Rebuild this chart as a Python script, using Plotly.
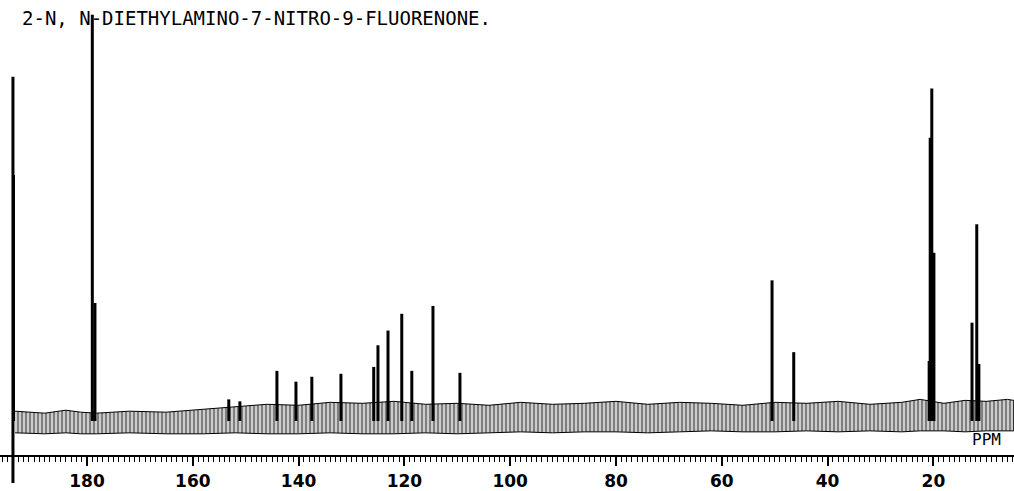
import plotly.graph_objects as go

# ---- data (ppm, intensity in arbitrary units above baseline) ----
title_text = "2-N, N-DIETHYLAMINO-7-NITRO-9-FLUORENONE."

peak_ppm = [194.0, 193.9, 179.0, 178.5, 153.2, 151.1, 144.1, 140.5, 137.5, 132.0,
            125.8, 125.0, 123.1, 120.5, 118.6, 114.6, 109.5,
            50.5, 46.4, 20.8, 20.6, 20.3, 19.9, 12.7, 11.8, 11.4]
peak_top = [350, 250, 413, 120, 22, 20, 51, 40, 45, 48,
            55, 77, 92, 109, 51, 117, 49,
            143, 70, 61, 288, 338, 171, 100, 200, 58]
peak_base = [-63, 0, 0, 0, 0, 0, 0, 0, 0, 0,
             0, 0, 0, 0, 0, 0, 0,
             0, 0, 0, 0, 0, 0, 0, 0, 0]

# baseline noise envelope (top / bottom of the noise band)
noise_ppm = [193.6, 188.0, 184.0, 181.2, 178.2, 172.0, 165.0, 158.0, 152.0, 146.0,
             140.0, 134.0, 128.0, 122.0, 116.0, 110.0, 104.0, 98.0, 92.0, 86.0,
             80.0, 74.0, 68.0, 62.0, 56.0, 50.0, 44.0, 38.0, 32.0, 26.0,
             22.5, 18.0, 14.0, 10.0, 6.0, 4.8]
noise_top = [10, 8, 11, 9, 8, 10, 9, 12, 15, 17,
             16, 19, 18, 20, 17, 18, 16, 19, 17, 18,
             20, 17, 19, 18, 16, 19, 18, 20, 17, 19,
             22, 18, 21, 20, 22, 21]
noise_bot = [-12, -13, -12, -13, -13, -12, -13, -13, -12, -13,
             -13, -12, -13, -13, -12, -13, -12, -11, -12, -11,
             -11, -12, -11, -10, -11, -11, -10, -11, -10, -11,
             -10, -10, -11, -10, -10, -10]

major_dtick = 20
minor_dtick = 1

# ---- build traces ----
stick_x, stick_y = [], []
for p, t, b in zip(peak_ppm, peak_top, peak_base):
    stick_x += [p, p, None]
    stick_y += [b, t, None]

band_x = noise_ppm + noise_ppm[::-1]
band_y = noise_top + noise_bot[::-1]

x_range = [196.45, 4.76]
ruler_pos = (491 - 464) / 491

fig = go.Figure()
fig.add_trace(go.Scatter(
    x=band_x, y=band_y, mode="lines", fill="toself",
    line=dict(width=1.0, color="black"),
    fillcolor="rgba(0,0,0,0)",
    fillpattern=dict(shape="|", fgcolor="black", bgcolor="white", size=4, solidity=0.7),
    hoverinfo="skip", showlegend=False))
fig.add_trace(go.Scatter(
    x=stick_x, y=stick_y, mode="lines",
    line=dict(color="black", width=3), showlegend=False))
# invisible trace that carries the minor-tick ruler axis
fig.add_trace(go.Scatter(x=noise_ppm, y=noise_top, xaxis="x2", mode="lines",
                         line=dict(width=0), opacity=0, hoverinfo="skip", showlegend=False))

fig.add_annotation(xref="paper", yref="paper", x=20 / 1014, y=1 - 18 / 491,
                   text=title_text, showarrow=False, xanchor="left", yanchor="middle",
                   font=dict(family="DejaVu Sans Mono", size=19, color="black"))
fig.add_annotation(x=10.0, y=-19, text="PPM", showarrow=False,
                   font=dict(family="DejaVu Sans Mono", size=16, color="black"))

fig.update_layout(
    width=1014, height=491, margin=dict(l=0, r=0, t=0, b=0),
    paper_bgcolor="white", plot_bgcolor="white",
    xaxis=dict(range=x_range, anchor="free", position=ruler_pos,
               showline=True, linecolor="black", linewidth=2,
               tickmode="linear", tick0=0, dtick=major_dtick,
               ticks="outside", ticklen=9, tickwidth=2, tickcolor="black",
               tickfont=dict(family="DejaVu Sans", size=17, color="black", weight="bold"),
               showgrid=False, zeroline=False),
    xaxis2=dict(range=x_range, anchor="free", position=ruler_pos, overlaying="x",
                side="bottom", showline=False,
                tickmode="linear", tick0=0, dtick=minor_dtick,
                ticks="outside", ticklen=5, tickwidth=1.2, tickcolor="black",
                showticklabels=False, showgrid=False, zeroline=False),
    yaxis=dict(range=[-63, 428], visible=False, showgrid=False, zeroline=False),
)

fig.write_html("out.html")
